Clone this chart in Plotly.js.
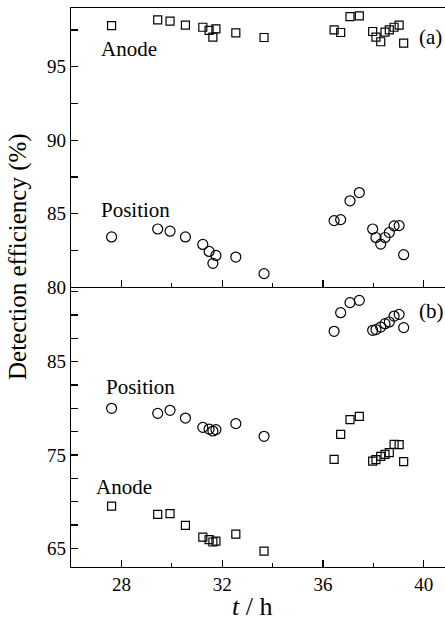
<!DOCTYPE html>
<html>
<head>
<meta charset="utf-8">
<script src="https://cdn.plot.ly/plotly-3.0.1.min.js"></script>
<style>html,body{margin:0;padding:0;background:#fff;}#chart{width:445px;height:620px;}</style>
</head>
<body>
<div id="chart"></div>
<script>
// time (h) for each measurement
const tA = [27.61, 29.44, 29.93, 30.54, 31.23, 31.48, 31.63, 31.75, 32.54, 33.66, 36.44, 36.70, 37.07, 37.44, 37.97, 38.10, 38.29, 38.46, 38.63, 38.82, 39.02, 39.20];
// panel (a)
const anodeA    = [97.80, 98.19, 98.10, 97.83, 97.69, 97.47, 97.02, 97.58, 97.31, 96.99, 97.51, 97.33, 98.41, 98.46, 97.40, 97.02, 96.70, 97.36, 97.51, 97.69, 97.83, 96.61];
const positionA = [83.41, 83.95, 83.80, 83.41, 82.90, 82.42, 81.61, 82.15, 82.04, 80.91, 84.52, 84.59, 85.87, 86.43, 83.95, 83.37, 82.92, 83.37, 83.71, 84.16, 84.18, 82.20];
// panel (b)
const positionB = [80.00, 79.46, 79.79, 78.96, 77.96, 77.78, 77.57, 77.72, 78.36, 77.00, 88.25, 90.25, 91.33, 91.57, 88.36, 88.43, 88.71, 89.07, 89.25, 89.89, 90.07, 88.65];
const anodeB    = [69.53, 68.64, 68.71, 67.46, 66.21, 65.93, 65.68, 65.78, 66.53, 64.70, 74.53, 77.21, 78.79, 79.14, 74.35, 74.50, 74.85, 75.07, 75.25, 76.14, 76.11, 74.29];

const xTicks = [28, 32, 36, 40];
const yTicksA = [80, 85, 90, 95];
const yTicksB = [65, 75, 85];

const FONT = 'Liberation Serif, Times New Roman, serif';
const W = 445, H = 620, L = 71, R = 0, T = 8, B = 53;
const px = x => (x - L) / (W - L - R);
const py = y => (H - B - y) / (H - T - B);
const split = 280 / 559;

function sq(x, y, ax, ay) {
  return {x: x, y: y, xaxis: ax, yaxis: ay, type: 'scatter', mode: 'markers',
    marker: {symbol: 'square-open', size: 8, color: '#000', line: {width: 1.2, color: '#000'}},
    hoverinfo: 'skip', showlegend: false};
}
function ci(x, y, ax, ay) {
  return {x: x, y: y, xaxis: ax, yaxis: ay, type: 'scatter', mode: 'markers',
    marker: {symbol: 'circle-open', size: 10, color: '#000', line: {width: 1.2, color: '#000'}},
    hoverinfo: 'skip', showlegend: false};
}

const data = [
  sq(tA, anodeA, 'x2', 'y2'),
  ci(tA, positionA, 'x2', 'y2'),
  ci(tA, positionB, 'x', 'y'),
  sq(tA, anodeB, 'x', 'y')
];

const axisCommon = {
  showgrid: false, zeroline: false, showline: true, linecolor: '#000', linewidth: 1.3,
  ticks: 'inside', tickcolor: '#000', tickwidth: 1.3,
  tickfont: {family: FONT, size: 19, color: '#000'}
};

const ann = (text, x, y, size, extra) => Object.assign({
  text: text, xref: 'paper', yref: 'paper', x: px(x), y: py(y),
  xanchor: 'center', yanchor: 'middle', showarrow: false,
  font: {family: FONT, size: size, color: '#000'}
}, extra || {});

const layout = {
  width: W, height: H,
  margin: {l: L, r: R, t: T, b: B},
  paper_bgcolor: '#fff', plot_bgcolor: '#fff',
  showlegend: false,
  xaxis: Object.assign({}, axisCommon, {
    domain: [0, 1], anchor: 'y', range: [26, 40.84],
    tickmode: 'array', tickvals: xTicks, ticklen: 7,
    minor: {dtick: 2, tick0: 26, ticks: 'inside', ticklen: 4, tickcolor: '#000', tickwidth: 1.3}
  }),
  yaxis: Object.assign({}, axisCommon, {
    domain: [0, split], anchor: 'x', range: [63, 93],
    tickmode: 'array', tickvals: yTicksB, ticklen: 7,
    minor: {dtick: 2.5, tick0: 65, ticks: 'inside', ticklen: 7, tickcolor: '#000', tickwidth: 1.3}
  }),
  xaxis2: Object.assign({}, axisCommon, {
    domain: [0, 1], anchor: 'y2', range: [26, 40.84], matches: 'x',
    tickmode: 'array', tickvals: xTicks, ticklen: 7, showticklabels: false, mirror: true,
    minor: {dtick: 2, tick0: 26, ticks: 'inside', ticklen: 4, tickcolor: '#000', tickwidth: 1.3}
  }),
  yaxis2: Object.assign({}, axisCommon, {
    domain: [split, 1], anchor: 'x2', range: [80, 99],
    tickmode: 'array', tickvals: yTicksA, ticklen: 7,
    minor: {dtick: 2.5, tick0: 80, ticks: 'inside', ticklen: 7, tickcolor: '#000', tickwidth: 1.3}
  }),
  annotations: [
    ann('Detection efficiency (%)', 18, 257, 25, {textangle: -90}),
    ann('<i>t</i> / h', 252, 606, 26),
    ann('Anode', 129, 49, 21),
    ann('Position', 135, 210, 21),
    ann('(a)', 430, 37, 21),
    ann('Position', 140, 387, 21),
    ann('Anode', 124, 487, 21),
    ann('(b)', 431, 311, 21)
  ]
};

Plotly.newPlot('chart', data, layout, {staticPlot: true, displayModeBar: false});
</script>
</body>
</html>
